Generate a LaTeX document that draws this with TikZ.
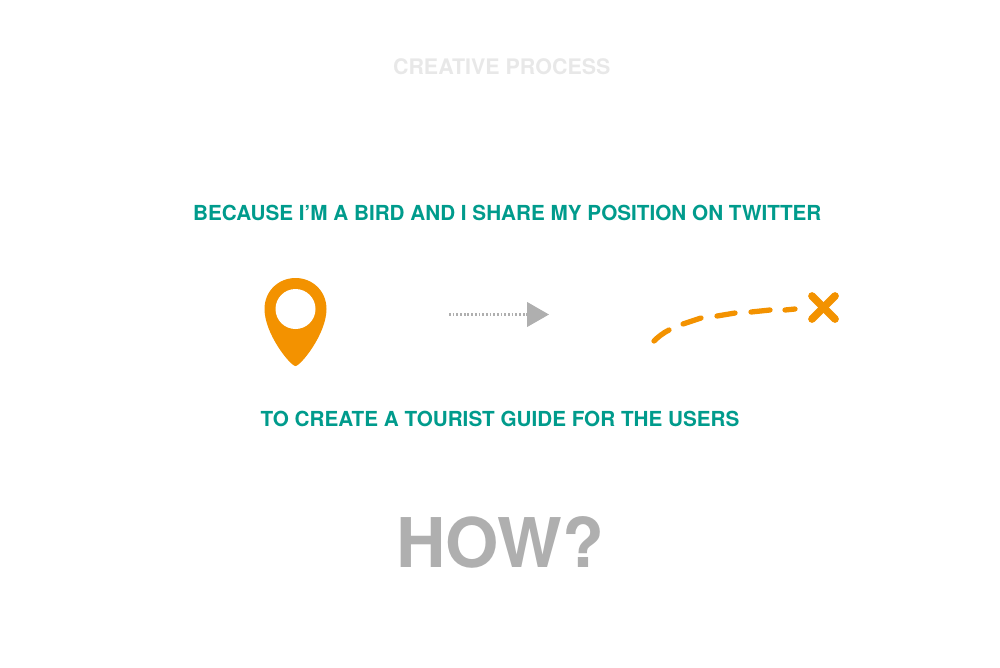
\documentclass[tikz,border=0pt]{standalone}
\usepackage{fontspec}
\setmainfont{TeX Gyre Heros}
\usetikzlibrary{arrows.meta}
\definecolor{tealtext}{RGB}{0,155,140}
\definecolor{pinorange}{RGB}{243,146,0}
\definecolor{howgrey}{RGB}{175,175,175}
\definecolor{titlegrey}{RGB}{232,232,232}
\tikzset{
  headline/.style={font=\bfseries\fontsize{11.78}{13}\selectfont, text=tealtext, inner sep=0pt},
  trail/.style={draw=pinorange, line width=3pt, line cap=round},
  cross/.style={draw=pinorange, line width=4.4pt, line cap=round}
}
\begin{document}
\begin{tikzpicture}[x=0.02cm,y=-0.02cm]
  % Page frame, in pixels of the reference
  \useasboundingbox (0,0) rectangle (1000,667);

  % Title and the two sentences
  \node[font=\bfseries\fontsize{12.2}{14}\selectfont, text=titlegrey, inner sep=0pt] (title) at (501.7,67) {CREATIVE PROCESS};
  \node[headline] (because) at (507.3,212.5) {BECAUSE I’M A BIRD AND I SHARE MY POSITION ON TWITTER};
  \node[headline] (create) at (500,418.5) {TO CREATE A TOURIST GUIDE FOR THE USERS};
  \node[font=\bfseries\fontsize{39}{46}\selectfont, text=howgrey, inner sep=0pt] (how) at (500,542) {HOW?};

  % Map pin with its hole
  \fill[pinorange] (295.5,366) .. controls (290.5,366) and (264.5,334) .. (264.5,309)
    .. controls (264.5,291) and (278.5,278) .. (295.5,278)
    .. controls (312.5,278) and (326.5,291) .. (326.5,309)
    .. controls (326.5,334) and (300.5,366) .. (295.5,366) -- cycle;
  \fill[white] (295.5,309) circle (20);

  % Dotted arrow
  \coordinate (arrowstart) at (449,314.5);
  \coordinate (arrowend) at (549,314.5);
  \draw[howgrey, line width=1.2pt, dash pattern=on 1pt off 1.1pt,
    -{Triangle[length=12.5pt,width=14pt,fill=howgrey]}] (arrowstart) -- (arrowend);

  % Dashed trail, ending at the cross
  \draw[trail] (654,341) .. controls (658,337) and (663,333) .. (669,330);
  \draw[trail] (683,324) .. controls (689,322) and (695,320) .. (701,318);
  \draw[trail] (717,316) -- (735,313);
  \draw[trail] (751,312) -- (770,310);
  \draw[trail] (785,310) -- (795,309);
  \draw[cross] (812,296) -- (835,319);
  \draw[cross] (835,296) -- (812,319);
\end{tikzpicture}
\end{document}
